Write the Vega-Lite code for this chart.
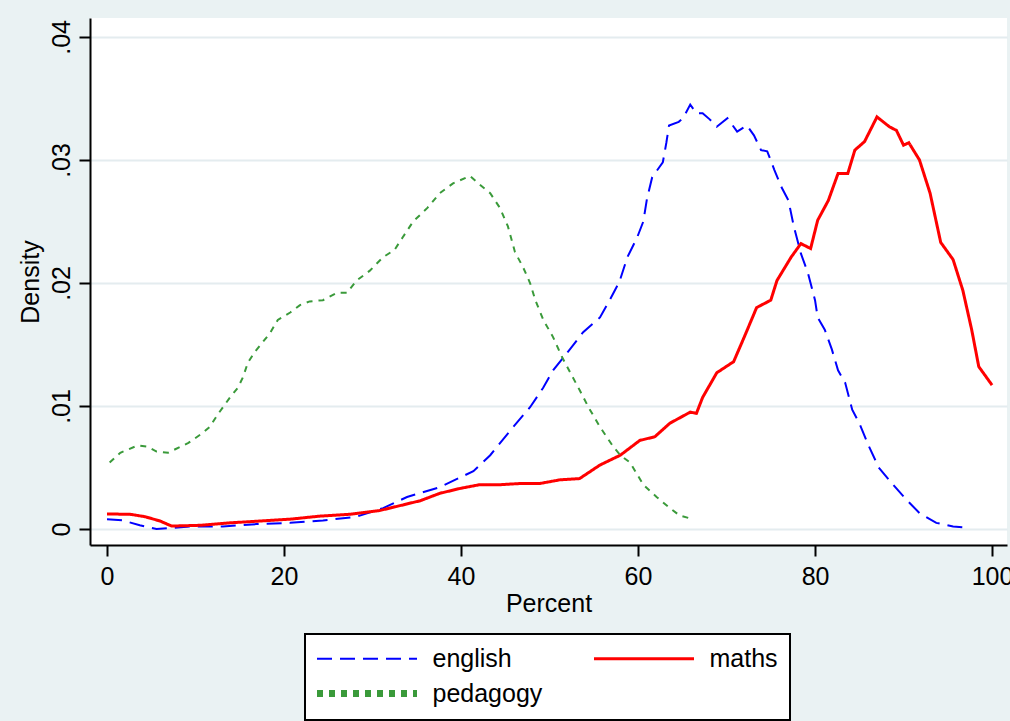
{
  "$schema": "https://vega.github.io/schema/vega-lite/v6.json",
  "width": 917,
  "height": 527,
  "autosize": {"type": "none"},
  "padding": {"left": 90, "top": 18, "right": 3, "bottom": 176},
  "background": "#EAF2F3",
  "config": {
    "font": "Liberation Sans",
    "view": {"fill": "white", "stroke": null},
    "axis": {
      "domainColor": "black", "domainWidth": 2, "tickColor": "black", "tickWidth": 2, "tickSize": 11,
      "labelColor": "black", "labelFontSize": 25, "titleFontSize": 25, "titleColor": "black", "titleFontWeight": "normal",
      "gridColor": "#E4ECEF", "gridWidth": 2
    }
  },
  "data": {"values": [
    {"series":"english","x":0,"y":0.0008},{"series":"english","x":1.8,"y":0.0007},{"series":"english","x":3.7,"y":0.0003},{"series":"english","x":5.6,"y":0.0},{"series":"english","x":7.5,"y":0.0001},{"series":"english","x":9.4,"y":0.0002},{"series":"english","x":13.1,"y":0.0002},{"series":"english","x":16.9,"y":0.0004},{"series":"english","x":20.7,"y":0.0005},{"series":"english","x":24.4,"y":0.0007},{"series":"english","x":28.2,"y":0.001},{"series":"english","x":31.2,"y":0.0017},{"series":"english","x":33.9,"y":0.0026},{"series":"english","x":37.6,"y":0.0034},{"series":"english","x":41.4,"y":0.0047},{"series":"english","x":43.3,"y":0.006},{"series":"english","x":45.9,"y":0.0083},{"series":"english","x":47.8,"y":0.0099},{"series":"english","x":49.3,"y":0.0115},{"series":"english","x":50.4,"y":0.0129},{"series":"english","x":52.3,"y":0.0146},{"series":"english","x":53.8,"y":0.016},{"series":"english","x":55.7,"y":0.0172},{"series":"english","x":56.8,"y":0.0186},{"series":"english","x":57.9,"y":0.0201},{"series":"english","x":58.8,"y":0.0221},{"series":"english","x":59.9,"y":0.0237},{"series":"english","x":60.6,"y":0.025},{"series":"english","x":61.0,"y":0.0268},{"series":"english","x":61.6,"y":0.0286},{"series":"english","x":62.8,"y":0.0298},{"series":"english","x":63.2,"y":0.0314},{"series":"english","x":63.5,"y":0.0328},{"series":"english","x":64.6,"y":0.0331},{"series":"english","x":65.1,"y":0.0334},{"series":"english","x":65.9,"y":0.0345},{"series":"english","x":66.6,"y":0.0338},{"series":"english","x":67.3,"y":0.0338},{"series":"english","x":68.1,"y":0.0333},{"series":"english","x":68.9,"y":0.0327},{"series":"english","x":70.1,"y":0.0334},{"series":"english","x":71.2,"y":0.0323},{"series":"english","x":72.3,"y":0.0328},{"series":"english","x":73.1,"y":0.032},{"series":"english","x":73.9,"y":0.0308},{"series":"english","x":74.6,"y":0.0307},{"series":"english","x":75.4,"y":0.0292},{"series":"english","x":76.2,"y":0.0278},{"series":"english","x":77.0,"y":0.0267},{"series":"english","x":77.6,"y":0.0246},{"series":"english","x":78.4,"y":0.0224},{"series":"english","x":79.2,"y":0.0208},{"series":"english","x":80.0,"y":0.0186},{"series":"english","x":80.3,"y":0.0172},{"series":"english","x":81.1,"y":0.0162},{"series":"english","x":81.9,"y":0.0146},{"series":"english","x":82.6,"y":0.0129},{"series":"english","x":83.4,"y":0.0119},{"series":"english","x":84.2,"y":0.0097},{"series":"english","x":85.0,"y":0.0086},{"series":"english","x":86.1,"y":0.0067},{"series":"english","x":87.2,"y":0.005},{"series":"english","x":88.7,"y":0.0037},{"series":"english","x":90.3,"y":0.0024},{"series":"english","x":91.8,"y":0.0013},{"series":"english","x":93.7,"y":0.0005},{"series":"english","x":95.6,"y":0.0002},{"series":"english","x":97.5,"y":0.0001},
    {"series":"maths","x":0,"y":0.00122},{"series":"maths","x":2.6,"y":0.0012},{"series":"maths","x":4.3,"y":0.001},{"series":"maths","x":6.0,"y":0.00065},{"series":"maths","x":7.3,"y":0.00024},{"series":"maths","x":10.5,"y":0.0003},{"series":"maths","x":13.9,"y":0.0005},{"series":"maths","x":17.3,"y":0.00065},{"series":"maths","x":20.7,"y":0.0008},{"series":"maths","x":24.1,"y":0.00105},{"series":"maths","x":27.5,"y":0.0012},{"series":"maths","x":30.8,"y":0.0015},{"series":"maths","x":33.1,"y":0.0019},{"series":"maths","x":35.4,"y":0.0023},{"series":"maths","x":37.6,"y":0.0029},{"series":"maths","x":39.9,"y":0.0033},{"series":"maths","x":42.1,"y":0.0036},{"series":"maths","x":44.4,"y":0.0036},{"series":"maths","x":46.7,"y":0.0037},{"series":"maths","x":48.9,"y":0.0037},{"series":"maths","x":51.2,"y":0.004},{"series":"maths","x":53.4,"y":0.0041},{"series":"maths","x":55.7,"y":0.0052},{"series":"maths","x":58.0,"y":0.006},{"series":"maths","x":60.2,"y":0.0072},{"series":"maths","x":61.9,"y":0.0075},{"series":"maths","x":63.6,"y":0.0086},{"series":"maths","x":65.9,"y":0.0095},{"series":"maths","x":66.6,"y":0.0094},{"series":"maths","x":67.3,"y":0.0107},{"series":"maths","x":68.9,"y":0.0127},{"series":"maths","x":70.8,"y":0.0136},{"series":"maths","x":72.0,"y":0.0156},{"series":"maths","x":73.4,"y":0.018},{"series":"maths","x":75.0,"y":0.0186},{"series":"maths","x":75.7,"y":0.0202},{"series":"maths","x":77.3,"y":0.0221},{"series":"maths","x":78.4,"y":0.0232},{"series":"maths","x":79.5,"y":0.0228},{"series":"maths","x":80.3,"y":0.0251},{"series":"maths","x":81.5,"y":0.0267},{"series":"maths","x":82.6,"y":0.0289},{"series":"maths","x":83.7,"y":0.0289},{"series":"maths","x":84.5,"y":0.0308},{"series":"maths","x":85.6,"y":0.0315},{"series":"maths","x":87.0,"y":0.0335},{"series":"maths","x":88.4,"y":0.0327},{"series":"maths","x":89.2,"y":0.0324},{"series":"maths","x":90.0,"y":0.0312},{"series":"maths","x":90.6,"y":0.0314},{"series":"maths","x":91.8,"y":0.030},{"series":"maths","x":93.0,"y":0.0273},{"series":"maths","x":94.2,"y":0.0233},{"series":"maths","x":95.6,"y":0.0219},{"series":"maths","x":96.7,"y":0.0194},{"series":"maths","x":97.7,"y":0.0162},{"series":"maths","x":98.5,"y":0.0132},{"series":"maths","x":99.2,"y":0.0125},{"series":"maths","x":100,"y":0.0117},
    {"series":"pedagogy","x":0.3,"y":0.0054},{"series":"pedagogy","x":1.5,"y":0.0062},{"series":"pedagogy","x":3.5,"y":0.0068},{"series":"pedagogy","x":4.6,"y":0.0067},{"series":"pedagogy","x":5.6,"y":0.0063},{"series":"pedagogy","x":6.9,"y":0.0062},{"series":"pedagogy","x":9.2,"y":0.007},{"series":"pedagogy","x":10.8,"y":0.0078},{"series":"pedagogy","x":11.6,"y":0.0083},{"series":"pedagogy","x":12.5,"y":0.0093},{"series":"pedagogy","x":13.1,"y":0.0099},{"series":"pedagogy","x":13.9,"y":0.0107},{"series":"pedagogy","x":14.8,"y":0.0115},{"series":"pedagogy","x":15.4,"y":0.0124},{"series":"pedagogy","x":15.9,"y":0.0135},{"series":"pedagogy","x":16.7,"y":0.0144},{"series":"pedagogy","x":18.4,"y":0.0159},{"series":"pedagogy","x":19.3,"y":0.017},{"series":"pedagogy","x":20.7,"y":0.0176},{"series":"pedagogy","x":21.8,"y":0.0182},{"series":"pedagogy","x":22.9,"y":0.0185},{"series":"pedagogy","x":24.4,"y":0.0186},{"series":"pedagogy","x":26.0,"y":0.0192},{"series":"pedagogy","x":27.1,"y":0.0192},{"series":"pedagogy","x":28.2,"y":0.0202},{"series":"pedagogy","x":29.7,"y":0.021},{"series":"pedagogy","x":31.2,"y":0.0221},{"series":"pedagogy","x":32.5,"y":0.0227},{"series":"pedagogy","x":33.4,"y":0.0237},{"series":"pedagogy","x":34.6,"y":0.025},{"series":"pedagogy","x":36.2,"y":0.0261},{"series":"pedagogy","x":37.6,"y":0.0273},{"series":"pedagogy","x":39.1,"y":0.0281},{"series":"pedagogy","x":41.0,"y":0.0287},{"series":"pedagogy","x":42.1,"y":0.028},{"series":"pedagogy","x":43.3,"y":0.0273},{"series":"pedagogy","x":44.4,"y":0.0261},{"series":"pedagogy","x":45.3,"y":0.0246},{"series":"pedagogy","x":46.1,"y":0.0225},{"series":"pedagogy","x":47.0,"y":0.0213},{"series":"pedagogy","x":47.8,"y":0.02},{"series":"pedagogy","x":48.4,"y":0.0186},{"series":"pedagogy","x":49.3,"y":0.017},{"series":"pedagogy","x":50.4,"y":0.0156},{"series":"pedagogy","x":51.4,"y":0.014},{"series":"pedagogy","x":52.5,"y":0.0125},{"series":"pedagogy","x":53.4,"y":0.0113},{"series":"pedagogy","x":54.4,"y":0.0099},{"series":"pedagogy","x":55.7,"y":0.0083},{"series":"pedagogy","x":57.2,"y":0.0067},{"series":"pedagogy","x":58.0,"y":0.006},{"series":"pedagogy","x":59.1,"y":0.0054},{"series":"pedagogy","x":60.6,"y":0.0036},{"series":"pedagogy","x":62.1,"y":0.0026},{"series":"pedagogy","x":63.6,"y":0.0017},{"series":"pedagogy","x":64.7,"y":0.0011},{"series":"pedagogy","x":66.2,"y":0.0008}
  ]},
  "mark": {"type": "line", "interpolate": "linear"},
  "encoding": {
    "x": {"field": "x", "type": "quantitative",
      "scale": {"domain": [-1.92, 101.69], "nice": false, "zero": false},
      "axis": {"values": [0, 20, 40, 60, 80, 100], "grid": false, "title": "Percent", "labelPadding": 8, "titlePadding": 2}},
    "y": {"field": "y", "type": "quantitative",
      "scale": {"domain": [-0.0013, 0.04154], "nice": false, "zero": false},
      "axis": {"values": [0, 0.01, 0.02, 0.03, 0.04], "grid": true, "title": "Density",
        "labelExpr": "datum.value == 0 ? '0' : '.0' + round(datum.value * 100)",
        "labelAngle": -90, "labelAlign": "center", "labelBaseline": "alphabetic", "labelPadding": 10, "titlePadding": 6}},
    "color": {"field": "series", "type": "nominal",
      "scale": {"domain": ["english", "pedagogy", "maths"], "range": ["#0000FF", "#3A9A3A", "#FF0000"]},
      "legend": {
        "title": null, "orient": "none", "legendX": 215, "legendY": 616, "columns": 2,
        "symbolType": "stroke", "symbolSize": 10000, "symbolStrokeWidth": 2, "symbolOffset": 37.5,
        "labelFontSize": 25, "labelColor": "black", "labelOffset": 53,
        "columnPadding": 45, "rowPadding": 7, "padding": 12,
        "strokeColor": "black", "fillColor": "white",
        "encode": {
          "legend": {"update": {"strokeWidth": {"value": 2}}},
          "symbols": {"update": {
            "strokeWidth": {"signal": "datum.value === 'maths' ? 3 : datum.value === 'pedagogy' ? 7 : 2"},
            "strokeCap": {"value": "butt"},
            "strokeDash": {"signal": "datum.value === 'english' ? [15, 8] : datum.value === 'pedagogy' ? [1.2, 5.3] : [1, 0]"}
          }}
        }
      }},
    "strokeDash": {"field": "series", "type": "nominal",
      "scale": {"domain": ["english", "pedagogy", "maths"], "range": [[15, 8], [6, 6], [1, 0]]}},
    "strokeWidth": {"condition": {"test": "datum.series === 'maths'", "value": 3}, "value": 2}
  }
}
